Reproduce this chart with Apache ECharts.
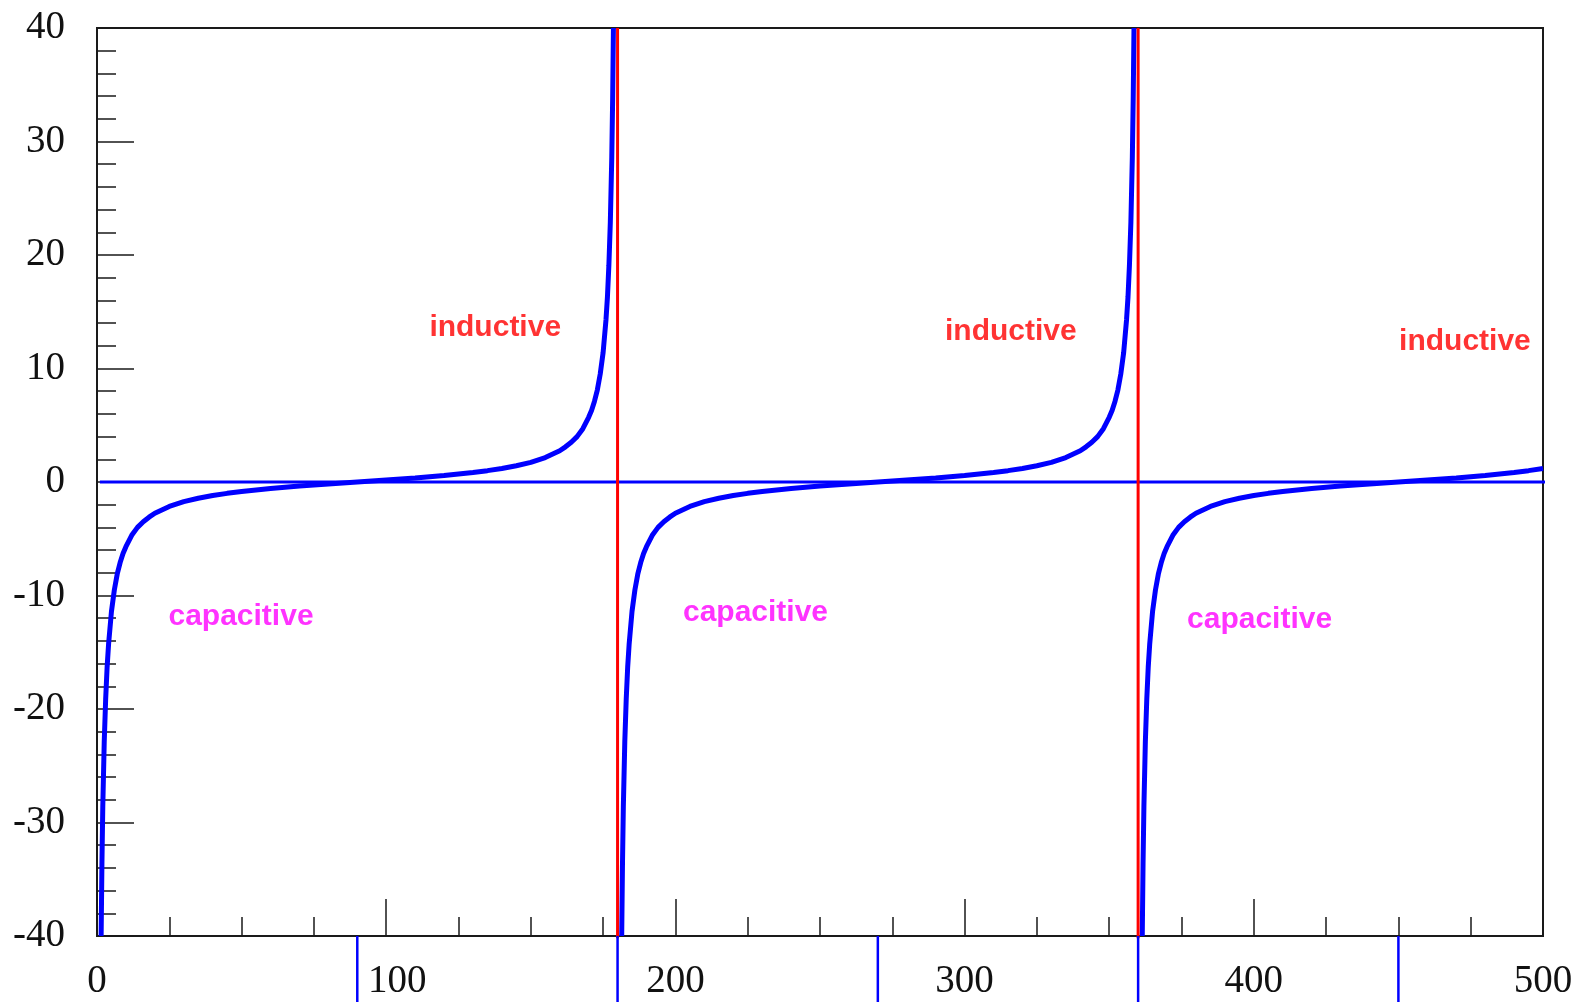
<!DOCTYPE html>
<html>
<head>
<meta charset="utf-8">
<script src="https://cdn.jsdelivr.net/npm/echarts@6/dist/echarts.min.js"></script>
<style>
html,body{margin:0;padding:0;background:#fff;}
#chart{width:1576px;height:1002px;}
</style>
</head>
<body>
<div id="chart"></div>
<script>
// ---- data ----
var xTicks = [0, 100, 200, 300, 400, 500];
var yTicks = [-40, -30, -20, -10, 0, 10, 20, 30, 40];

var branch1 = [[1.43,-40],[1.7,-33.7],[2,-28.6],[2.5,-22.9],[3,-19.1],[3.5,-16.3],[4,-14.3],[5,-11.4],[6,-9.5],[7,-8.1],[8,-7.1],[9,-6.3],[10,-5.7],[12,-4.7],[14,-4.0],[16,-3.5],[18,-3.1],[20,-2.75],[25,-2.15],[30,-1.73],[35,-1.43],[40,-1.19],[45,-1.0],[50,-0.84],[60,-0.58],[70,-0.36],[80,-0.18],[90,0],[100,0.18],[110,0.36],[120,0.58],[130,0.84],[135,1.0],[140,1.19],[145,1.43],[150,1.73],[155,2.15],[160,2.75],[162,3.1],[164,3.5],[166,4.0],[168,4.7],[170,5.7],[171,6.3],[172,7.1],[173,8.1],[174,9.5],[175,11.4],[176,14.3],[176.5,16.3],[177,19.1],[177.5,22.9],[178,28.6],[178.3,33.7],[178.57,40]];
var branch2 = [[181.43,-40],[181.7,-33.7],[182,-28.6],[182.5,-22.9],[183,-19.1],[183.5,-16.3],[184,-14.3],[185,-11.4],[186,-9.5],[187,-8.1],[188,-7.1],[189,-6.3],[190,-5.7],[192,-4.7],[194,-4.0],[196,-3.5],[198,-3.1],[200,-2.75],[205,-2.15],[210,-1.73],[215,-1.43],[220,-1.19],[225,-1.0],[230,-0.84],[240,-0.58],[250,-0.36],[260,-0.18],[270,0],[280,0.18],[290,0.36],[300,0.58],[310,0.84],[315,1.0],[320,1.19],[325,1.43],[330,1.73],[335,2.15],[340,2.75],[342,3.1],[344,3.5],[346,4.0],[348,4.7],[350,5.7],[351,6.3],[352,7.1],[353,8.1],[354,9.5],[355,11.4],[356,14.3],[356.5,16.3],[357,19.1],[357.5,22.9],[358,28.6],[358.3,33.7],[358.57,40]];
var branch3 = [[361.43,-40],[361.7,-33.7],[362,-28.6],[362.5,-22.9],[363,-19.1],[363.5,-16.3],[364,-14.3],[365,-11.4],[366,-9.5],[367,-8.1],[368,-7.1],[369,-6.3],[370,-5.7],[372,-4.7],[374,-4.0],[376,-3.5],[378,-3.1],[380,-2.75],[385,-2.15],[390,-1.73],[395,-1.43],[400,-1.19],[405,-1.0],[410,-0.84],[420,-0.58],[430,-0.36],[440,-0.18],[450,0],[460,0.18],[470,0.36],[480,0.58],[490,0.84],[495,1.0],[500,1.19]];

var zeroLine = [[1,0],[503,0]];
var poles = [180, 360];
var footMarks = [90, 180, 270, 360, 450];

var labelTexts = ['inductive','inductive','inductive','capacitive','capacitive','capacitive'];
var labelX = [137.7, 316, 473, 49.8, 227.7, 402];
var labelY = [13.6, 13.2, 12.4, -11.9, -11.5, -12.1];
var labelKind = ['ind','ind','ind','cap','cap','cap'];

// ---- chart ----
var chart = echarts.init(document.getElementById('chart'), null, {renderer:'canvas'});
var axisColor = '#1a1a1a';
var serif = 'Liberation Serif, Times New Roman, serif';
var series = [];

[branch1, branch2, branch3].forEach(function(b){
  series.push({type:'line', data:b, showSymbol:false, symbol:'none', smooth:false,
    lineStyle:{color:'#0000ff', width:5}, z:3, silent:true});
});
series.push({type:'line', data:zeroLine, symbol:'none', clip:false,
  lineStyle:{color:'#0000ff', width:3}, z:2, silent:true});
poles.forEach(function(p){
  series.push({type:'line', data:[[p,-40.2],[p,40]], symbol:'none', clip:false,
    lineStyle:{color:'#ff0000', width:3}, z:4, silent:true});
});
footMarks.forEach(function(p){
  series.push({type:'line', data:[[p,-40],[p,-47]], symbol:'none', clip:false,
    lineStyle:{color:'#0000ff', width:2.5}, z:4, silent:true});
});
var labelData = labelTexts.map(function(t,i){
  return {value:[labelX[i], labelY[i]], name:t,
    label:{color: labelKind[i]==='ind' ? '#ff0000' : '#ff00ff'}};
});
series.push({type:'scatter', data:labelData, symbolSize:0, z:5, silent:true,
  label:{show:true, position:'inside', formatter:function(p){return p.name;},
    fontFamily:'Liberation Sans, Arial, sans-serif', fontWeight:'bold', fontSize:30}});

chart.setOption({
  animation:false,
  backgroundColor:'#fff',
  grid:{left:97, right:33, top:28, bottom:66, show:true, borderColor:axisColor, borderWidth:2, containLabel:false},
  xAxis:{type:'value', min:xTicks[0], max:xTicks[xTicks.length-1], interval:100,
    axisLine:{show:true, onZero:false, lineStyle:{color:axisColor, width:2}},
    axisTick:{show:true, inside:true, length:37, lineStyle:{color:axisColor, width:1.5}},
    minorTick:{show:true, splitNumber:4, length:19, lineStyle:{color:axisColor, width:1.5}},
    splitLine:{show:false}, minorSplitLine:{show:false},
    axisLabel:{fontFamily:serif, fontSize:39, color:'#111', margin:26,
      formatter:function(v){ return v === 100 ? '{off|' + v + '}' : String(v); },
      rich:{off:{fontFamily:serif, fontSize:39, color:'#111', padding:[0,0,0,22]}}}},
  yAxis:{type:'value', min:yTicks[0], max:yTicks[yTicks.length-1], interval:10,
    axisLine:{show:true, onZero:false, lineStyle:{color:axisColor, width:2}},
    axisTick:{show:true, inside:true, length:37, lineStyle:{color:axisColor, width:1.5}},
    minorTick:{show:true, splitNumber:5, length:19, lineStyle:{color:axisColor, width:1.5}},
    splitLine:{show:false}, minorSplitLine:{show:false},
    axisLabel:{fontFamily:serif, fontSize:39, color:'#111', margin:32}},
  series:series
});
</script>
</body>
</html>
